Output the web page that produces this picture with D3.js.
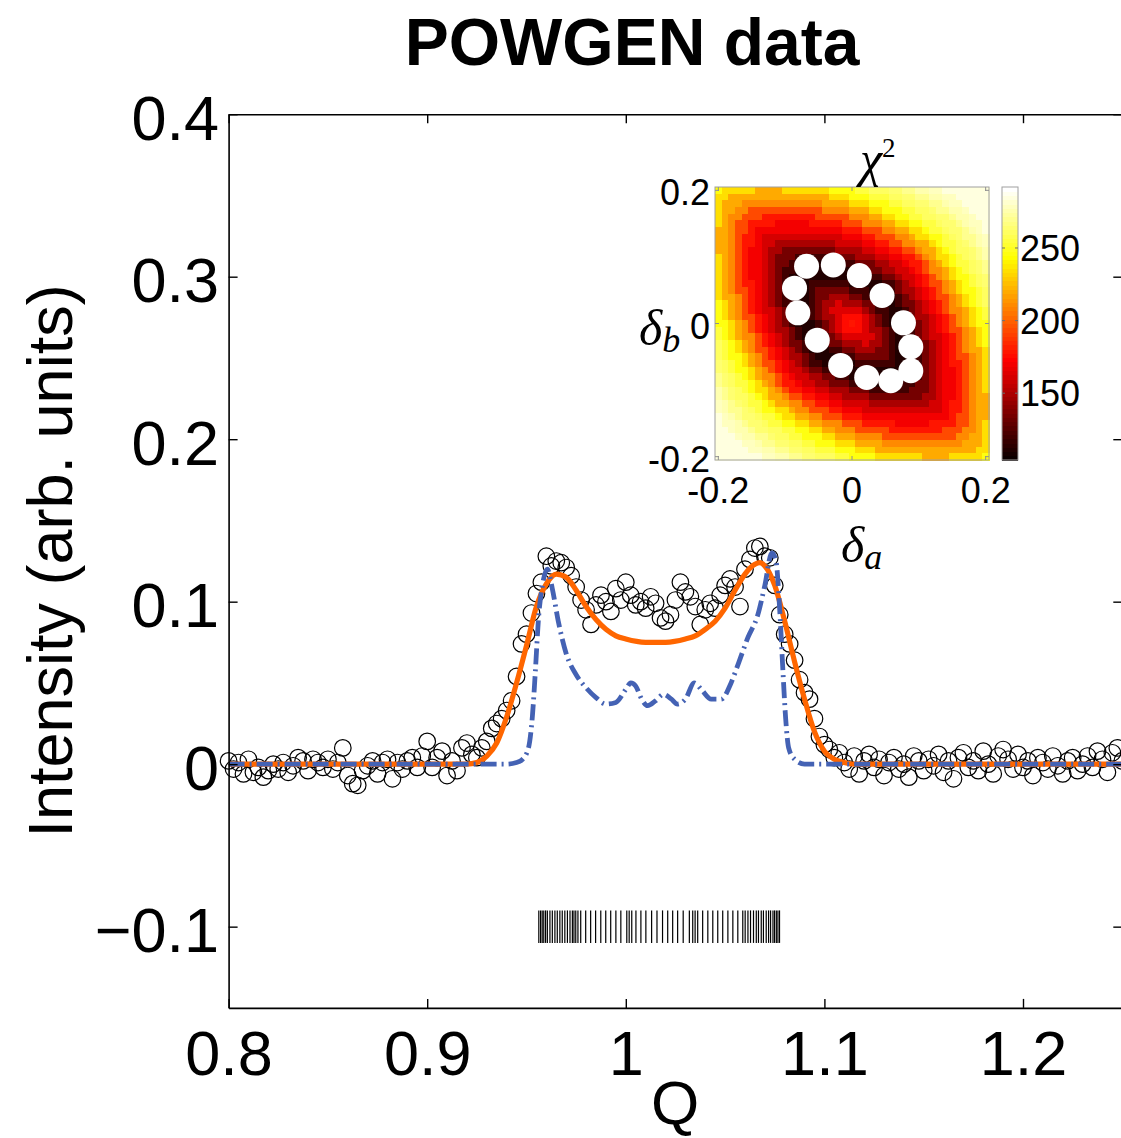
<!DOCTYPE html>
<html>
<head>
<meta charset="utf-8">
<script src="https://cdn.jsdelivr.net/npm/d3@7"></script>
<style>
  html, body { margin: 0; padding: 0; background: #fff; }
  svg { display: block; }
</style>
</head>
<body>
<svg id="chart" width="1121" height="1138"></svg>
<script>
// ---------------- Main panel: POWGEN diffraction profile ----------------
// Observed intensity on a regular Q grid (start 0.8, step 0.0025)
const qStart = 0.8;
const qStep = 0.0025;
const intensity = [
  0.002,-0.003,0.001,-0.006,0.003,-0.005,-0.002,-0.008,-0.004,0.000,
  -0.003,0.001,-0.005,-0.001,0.004,0.002,-0.004,0.003,0.001,-0.002,
  0.003,-0.003,0.001,0.010,-0.007,-0.012,-0.013,-0.004,-0.001,0.002,
  -0.006,0.001,0.003,-0.009,0.001,-0.003,0.002,0.004,-0.002,0.005,
  0.014,-0.002,0.004,0.008,-0.007,0.002,-0.004,0.010,0.013,0.006,
  0.004,
  0.010,0.014,0.022,0.025,0.028,0.033,0.039,0.054,0.074,0.080,
  0.093,0.105,0.112,0.128,0.122,0.125,0.124,0.121,0.116,0.109,
  0.101,0.095,0.086,0.098,0.104,
  0.100,0.094,0.108,0.101,0.112,0.104,0.098,0.100,0.096,0.103,
  0.099,0.090,0.088,0.092,0.101,0.112,0.106,0.103,0.097,0.086,
  0.095,0.099,0.096,0.104,0.110,0.114,0.109,0.097,0.120,0.126,
  0.133,0.134,0.128,0.127,0.110,0.092,0.080,0.074,0.064,0.052,
  0.044,0.040,0.028,0.017,0.012,0.009,0.004,0.007,0.001,
  -0.003,0.005,-0.006,0.002,0.006,-0.002,0.003,-0.007,0.001,0.004,
  -0.003,0.000,-0.008,0.005,0.002,-0.004,0.003,-0.001,0.006,-0.005,
  0.002,-0.009,0.004,0.007,-0.002,0.002,-0.004,0.008,0.000,-0.006,
  0.005,0.009,0.003,-0.003,0.006,-0.002,0.002,-0.007,0.004,0.001,
  -0.003,0.005,-0.001,-0.006,0.002,0.004,-0.004,0.000,0.005,-0.002,
  0.008,0.003,-0.005,0.007,0.010,0.002
];

// Refined model (solid orange)
const fitQ = [0.800,0.920,0.925,0.930,0.935,0.940,0.945,0.950,0.955,0.960,0.965,0.970,0.975,0.980,0.985,0.990,0.995,1.000,1.010,1.020,1.030,1.035,1.040,1.045,1.050,1.055,1.060,1.065,1.0675,1.070,1.075,1.080,1.085,1.090,1.095,1.100,1.105,1.110,1.115,1.250];
const fitI = [0,0,0.001,0.005,0.013,0.029,0.050,0.073,0.097,0.111,0.117,0.115,0.107,0.097,0.089,0.083,0.079,0.077,0.075,0.075,0.077,0.079,0.083,0.088,0.096,0.107,0.117,0.123,0.124,0.122,0.110,0.088,0.063,0.040,0.020,0.008,0.003,0.001,0,0];

// Calculated profile without broadening (blue dash-dot)
const calcQ = [0.800,0.940,0.945,0.948,0.951,0.953,0.9545,0.956,0.958,0.9605,0.963,0.966,0.970,0.975,0.980,0.985,0.990,0.995,1.000,1.0025,1.005,1.008,1.011,1.015,1.019,1.023,1.026,1.030,1.0345,1.038,1.043,1.048,1.053,1.057,1.0615,1.0665,1.070,1.0735,1.0755,1.0775,1.079,1.0805,1.082,1.085,1.090,1.250];
const calcI = [0,0,0.001,0.003,0.010,0.030,0.058,0.089,0.110,0.120,0.108,0.088,0.068,0.055,0.047,0.041,0.037,0.038,0.046,0.050,0.048,0.040,0.036,0.039,0.043,0.040,0.037,0.040,0.050,0.046,0.040,0.040,0.050,0.063,0.078,0.092,0.110,0.130,0.126,0.095,0.060,0.028,0.010,0.003,0,0];

// Reflection positions (tick marks drawn at I = -0.1)
const reflections = [
  0.9562,0.9571,0.9579,0.9587,0.9596,0.9605,0.9618,0.9630,0.9643,0.9655,
  0.9668,0.9680,0.9693,0.9706,0.9719,0.9731,0.9739,0.9748,0.9759,0.9773,
  0.9798,0.9823,0.9848,0.9874,0.9899,0.9924,0.9950,0.9975,1.0005,1.0017,
  1.0030,1.0051,1.0076,1.0101,1.0130,1.0157,1.0185,1.0211,1.0236,1.0261,
  1.0289,1.0320,1.0337,1.0349,1.0362,1.0387,1.0413,1.0438,1.0463,1.0488,
  1.0514,1.0539,1.0564,1.0589,1.0601,1.0615,1.0628,1.0643,1.0657,1.0668,
  1.0682,1.0693,1.0707,1.0719,1.0729,1.0741,1.0749,1.0758,1.0766,1.0774
];

const xTicks = [0.8, 0.9, 1.0, 1.1, 1.2];
const xTickLabels = ["0.8", "0.9", "1", "1.1", "1.2"];
const yTicks = [-0.1, 0, 0.1, 0.2, 0.3, 0.4];
const yTickLabels = ["\u22120.1", "0", "0.1", "0.2", "0.3", "0.4"];

// ---------------- Inset: chi-square map over (delta_a, delta_b) ----------------
// 41 x 41 grid, delta from -0.2 to 0.2 in steps of 0.01.
// Rows run from delta_b = +0.2 (top) to -0.2 (bottom); each character is a
// base-36 level, chi2 = chi2Base + chi2Step * level.
const chi2Base = 110;
const chi2Step = 5;
const chi2Rows = [
  "rpppppmmmmppppppprrrrttuuuvvwwxxyyzzzzzzz",
  "ppmmmmmmmmmmmmmmmppprrrtttuuvvwwxxyyzzzzz",
  "pmmmkkkkkkkkkkkkmmmmppprrrttuuvvwwxyyzzzz",
  "pmmkkhhhhhhhhhhhkkkkmmmpprrrttuuvwwxxyzzz",
  "pmkkhhheeeeeeeehhhhhkkkmmpprrttuuvvwxxyzz",
  "pmkhheeeeccccceeeeehhhkkkmmpprrttuvvwxyyz",
  "mmkhheccccccccccccceeehhhkkmmpprttuvvwxyz",
  "mmkheecaaaaaaaaaaaaccceehhhkkmpprrtuvwwxy",
  "mmkheecaa888888888aaaacceehhkkmmprttuvwxy",
  "mmkhecca88555555558888aacceehhkmmprtuuvwx",
  "pmkhecca8555222222555888aacceehkmpprtuvwx",
  "pmkhecca855220000222255588aaceehkmprttuvw",
  "pmkhecca8522000000000225588aacehkkmprtuvw",
  "pmkhecca85200000000000022558aacehkmprrtuv",
  "pmkheeca852000222222000002258acehhkmprtuv",
  "pmkhheca8520002555552220002588acehkmprrtu",
  "pmmkheca8520002558885522000258acehhkmprtu",
  "rpmkheca8522002588b888552002558acehkmprtu",
  "rpmkhecaa85200258bbbbb852200258acehkkmprt",
  "rpmkhheca852002588bdddb852002588acehkmprt",
  "rrpmkheca852000258bdedb852000258acehkmprr",
  "trpmkheca885200258bdddb885200258acehhkmpr",
  "trpmkkheca852002258bbbbb85200258aacehkmpr",
  "utrpmkheca855200255888b8852002258acehkmpr",
  "utrpmkhheca8520002255888552000258acehkmmp",
  "utrrpmkheca8852000222555552000258acehhkmp",
  "vutrpmkhheca852200000222222000258aceehkmp",
  "vutrrpmkhecaa85522000000000000258accehkmp",
  "wvutrpmkkhecaa8855220000000002258accehkmp",
  "wvuttrpmkheecaa885552222000022558accehkmp",
  "xwvutrppmkheeccaa8885552222225558accehkmp",
  "xwvuutrpmmkhheeccaa88885555555588accehkmm",
  "yxwvuttrpmmkkhheeccaaaa888888888aaceehkmm",
  "yxwwvutrrppmkkhhheecccaaaaaaaaaaaaceehkmm",
  "zyxwvvuttrppmmkkhhheeecccccccccccccehhkmm",
  "zyyxwvvuttrrppmmkkkhhheeeeeccccceeeehhkmp",
  "zzyxxwvvuuttrrppmmkkkhhhhheeeeeeeehhhkkmp",
  "zzzyxxwwvuuttrrrppmmmkkkkhhhhhhhhhhhkkmmp",
  "zzzzyyxwwvvuuttrrrpppmmmmkkkkkkkkkkkkmmmp",
  "zzzzzyyxxwwvvuutttrrrpppmmmmmmmmmmmmmmmpp",
  "zzzzzzzyyxxwwvvuuuttrrrrpppppppmmmmpppppr"
];
const gridMin = -0.2;
const gridStep = 0.01;

// Best-fit solutions marked on the map
const ringDa = [-0.068,-0.028,0.011,0.045,0.077,0.088,0.088,0.058,0.022,-0.017,-0.052,-0.081,-0.086];
const ringDb = [0.086,0.088,0.072,0.042,0.001,-0.035,-0.071,-0.086,-0.081,-0.063,-0.025,0.016,0.053];

const insetTicks = [-0.2, 0, 0.2];
const insetTickLabels = ["-0.2", "0", "0.2"];
const cbTicks = [150, 200, 250];
const cbLimits = [104, 292];

// ---------------- Drawing ----------------
const W = 1121, H = 1138;
const SANS = "'Liberation Sans', Arial, Helvetica, sans-serif";
const SERIF = "'Liberation Serif', 'DejaVu Serif', serif";

const svg = d3.select("#chart");
svg.append("rect").attr("width", W).attr("height", H).attr("fill", "#fff");

const x = d3.scaleLinear().domain([0.8, 1.25]).range([228.6, 1122.3]);
const y = d3.scaleLinear().domain([-0.15, 0.4]).range([1007.9, 114.2]);

const defs = svg.append("defs");
defs.append("clipPath").attr("id", "plotClip").append("rect")
  .attr("x", x(0.8)).attr("y", y(0.4))
  .attr("width", x(1.25) - x(0.8)).attr("height", y(-0.15) - y(0.4));

const plot = svg.append("g");

// Reflection markers
plot.append("g").selectAll("line").data(reflections).join("line")
  .attr("x1", d => x(d)).attr("x2", d => x(d))
  .attr("y1", y(-0.09)).attr("y2", y(-0.11))
  .attr("stroke", "#000").attr("stroke-width", 1.2);

// Observed data: open circles
const obs = intensity.map((v, i) => ({ q: qStart + i * qStep, v }));
plot.append("g").selectAll("circle").data(obs).join("circle")
  .attr("cx", d => x(d.q)).attr("cy", d => y(d.v)).attr("r", 8.3)
  .attr("fill", "none").attr("stroke", "#000").attr("stroke-width", 1.2);

const line = d3.line().x(d => x(d[0])).y(d => y(d[1])).curve(d3.curveMonotoneX);

plot.append("path").datum(d3.zip(fitQ, fitI))
  .attr("d", line).attr("fill", "none")
  .attr("stroke", "#ff6600").attr("stroke-width", 5.2)
  .attr("stroke-linejoin", "round")
  .attr("clip-path", "url(#plotClip)");

plot.append("path").datum(d3.zip(calcQ, calcI))
  .attr("d", line).attr("fill", "none")
  .attr("stroke", "#4462b4").attr("stroke-width", 4.8)
  .attr("stroke-dasharray", "16,5,2,5")
  .attr("clip-path", "url(#plotClip)");

// Axes (box with inward ticks)
function styleAxis(g) {
  g.attr("font-family", SANS).attr("font-size", 63).attr("color", "#000");
  g.selectAll("path.domain").attr("stroke-width", 1.6);
  g.selectAll(".tick line").attr("stroke-width", 1.4);
  g.selectAll("text").attr("fill", "#000");
}

svg.append("g").attr("transform", `translate(0,${y(-0.15)})`)
  .call(d3.axisBottom(x).tickValues(xTicks).tickFormat((d, i) => xTickLabels[i])
    .tickSizeInner(-9).tickSizeOuter(0).tickPadding(22))
  .call(styleAxis);

svg.append("g").attr("transform", `translate(0,${y(0.4)})`)
  .call(d3.axisTop(x).tickValues(xTicks).tickFormat("")
    .tickSizeInner(-9).tickSizeOuter(0))
  .call(styleAxis);

svg.append("g").attr("transform", `translate(${x(0.8)},0)`)
  .call(d3.axisLeft(y).tickValues(yTicks).tickFormat((d, i) => yTickLabels[i])
    .tickSizeInner(-9).tickSizeOuter(0).tickPadding(9.6))
  .call(styleAxis)
  .call(g => g.selectAll("text").attr("dy", "0.40em"));

svg.append("g").attr("transform", `translate(${x(1.25)},0)`)
  .call(d3.axisRight(y).tickValues(yTicks).tickFormat("")
    .tickSizeInner(-9).tickSizeOuter(0))
  .call(styleAxis);

// Titles
svg.append("text").attr("x", 632).attr("y", 65)
  .attr("text-anchor", "middle").attr("font-family", SANS)
  .attr("font-weight", "bold").attr("font-size", 66).attr("fill", "#000")
  .text("POWGEN data");

svg.append("text").attr("x", 675).attr("y", 1124)
  .attr("text-anchor", "middle").attr("font-family", SANS)
  .attr("font-size", 62).attr("fill", "#000").text("Q");

svg.append("text").attr("transform", "translate(72,561) rotate(-90)")
  .attr("text-anchor", "middle").attr("font-family", SANS)
  .attr("font-size", 63).attr("fill", "#000").text("Intensity (arb. units)");

// ---------------- Inset ----------------
const ix = d3.scaleLinear().domain([-0.205, 0.205]).range([715, 989]);
const iy = d3.scaleLinear().domain([-0.205, 0.205]).range([460, 187]);

// MATLAB-style "hot" colour map with 64 levels
function hot(v) {
  const t = (v - cbLimits[0]) / (cbLimits[1] - cbLimits[0]);
  let k = Math.floor(t * 64) + 1;
  k = Math.max(1, Math.min(64, k));
  const r = k <= 24 ? k / 24 : 1;
  const g = k <= 24 ? 0 : (k <= 48 ? (k - 24) / 24 : 1);
  const b = k <= 48 ? 0 : (k - 48) / 16;
  return d3.rgb(r * 255, g * 255, b * 255).toString();
}

const cells = [];
chi2Rows.forEach((row, j) => {
  for (let i = 0; i < row.length; i++) {
    cells.push({
      da: gridMin + i * gridStep,
      db: -gridMin - j * gridStep,
      v: chi2Base + chi2Step * parseInt(row[i], 36)
    });
  }
});

const inset = svg.append("g");
const cw = ix(gridStep) - ix(0);
const ch = iy(0) - iy(gridStep);
inset.append("g").attr("shape-rendering", "crispEdges")
  .selectAll("rect").data(cells).join("rect")
  .attr("x", d => ix(d.da - gridStep / 2)).attr("y", d => iy(d.db + gridStep / 2))
  .attr("width", cw + 0.6).attr("height", ch + 0.6)
  .attr("fill", d => hot(d.v));

// Inset frame and ticks
inset.append("rect").attr("x", 715).attr("y", 187).attr("width", 274).attr("height", 273)
  .attr("fill", "none").attr("stroke", "#a0a0a0").attr("stroke-width", 1);
insetTicks.forEach(t => {
  inset.append("line").attr("x1", ix(t)).attr("x2", ix(t)).attr("y1", 187).attr("y2", 191)
    .attr("stroke", "#909090");
  inset.append("line").attr("x1", ix(t)).attr("x2", ix(t)).attr("y1", 460).attr("y2", 456)
    .attr("stroke", "#909090");
  inset.append("line").attr("y1", iy(t)).attr("y2", iy(t)).attr("x1", 715).attr("x2", 719)
    .attr("stroke", "#909090");
  inset.append("line").attr("y1", iy(t)).attr("y2", iy(t)).attr("x1", 989).attr("x2", 985)
    .attr("stroke", "#909090");
});

// Best-fit markers
const ringPts = d3.zip(ringDa, ringDb);
inset.append("g").selectAll("circle").data(ringPts).join("circle")
  .attr("cx", d => ix(d[0])).attr("cy", d => iy(d[1])).attr("r", 12.5)
  .attr("fill", "#fff");

// Inset tick labels
inset.append("g").selectAll("text").data(insetTicks).join("text")
  .attr("x", d => ix(d)).attr("y", 503)
  .attr("text-anchor", "middle").attr("font-family", SANS).attr("font-size", 36)
  .attr("fill", "#000").text((d, i) => insetTickLabels[i]);
inset.append("g").selectAll("text").data(insetTicks).join("text")
  .attr("x", 710).attr("y", d => iy(d) + 15)
  .attr("text-anchor", "end").attr("font-family", SANS).attr("font-size", 36)
  .attr("fill", "#000").text((d, i) => insetTickLabels[i]);

// Inset axis symbols
const lblB = inset.append("text").attr("x", 639).attr("y", 345)
  .attr("font-family", SERIF).attr("font-style", "italic").attr("fill", "#000");
lblB.append("tspan").attr("font-size", 50).text("\u03b4");
lblB.append("tspan").attr("font-size", 36).attr("dy", 7).text("b");

const lblA = inset.append("text").attr("x", 841).attr("y", 562)
  .attr("font-family", SERIF).attr("font-style", "italic").attr("fill", "#000");
lblA.append("tspan").attr("font-size", 50).text("\u03b4");
lblA.append("tspan").attr("font-size", 36).attr("dy", 7).text("a");

const lblC = inset.append("text").attr("x", 860).attr("y", 176)
  .attr("font-family", SERIF).attr("font-style", "italic").attr("fill", "#000");
lblC.append("tspan").attr("font-size", 50).text("\u03c7");
lblC.append("tspan").attr("font-size", 27).attr("font-style", "normal").attr("dy", -19).text("2");

// Colour bar
const cb = d3.scaleLinear().domain(cbLimits).range([460, 187]);
const cbLevels = d3.range(64);
inset.append("g").attr("shape-rendering", "crispEdges")
  .selectAll("rect").data(cbLevels).join("rect")
  .attr("x", 1002).attr("width", 16)
  .attr("y", k => 460 - (k + 1) * 273 / 64).attr("height", 273 / 64 + 0.6)
  .attr("fill", k => hot(cbLimits[0] + (k + 0.5) / 64 * (cbLimits[1] - cbLimits[0])));
inset.append("rect").attr("x", 1002).attr("y", 187).attr("width", 16).attr("height", 273)
  .attr("fill", "none").attr("stroke", "#a0a0a0").attr("stroke-width", 1);
cbTicks.forEach(t => {
  inset.append("line").attr("x1", 1002).attr("x2", 1005).attr("y1", cb(t)).attr("y2", cb(t))
    .attr("stroke", "#707070");
  inset.append("line").attr("x1", 1018).attr("x2", 1015).attr("y1", cb(t)).attr("y2", cb(t))
    .attr("stroke", "#707070");
});
inset.append("g").selectAll("text").data(cbTicks).join("text")
  .attr("x", 1020).attr("y", d => cb(d) + 13)
  .attr("font-family", SANS).attr("font-size", 36).attr("fill", "#000")
  .text(d => d);
</script>
</body>
</html>
